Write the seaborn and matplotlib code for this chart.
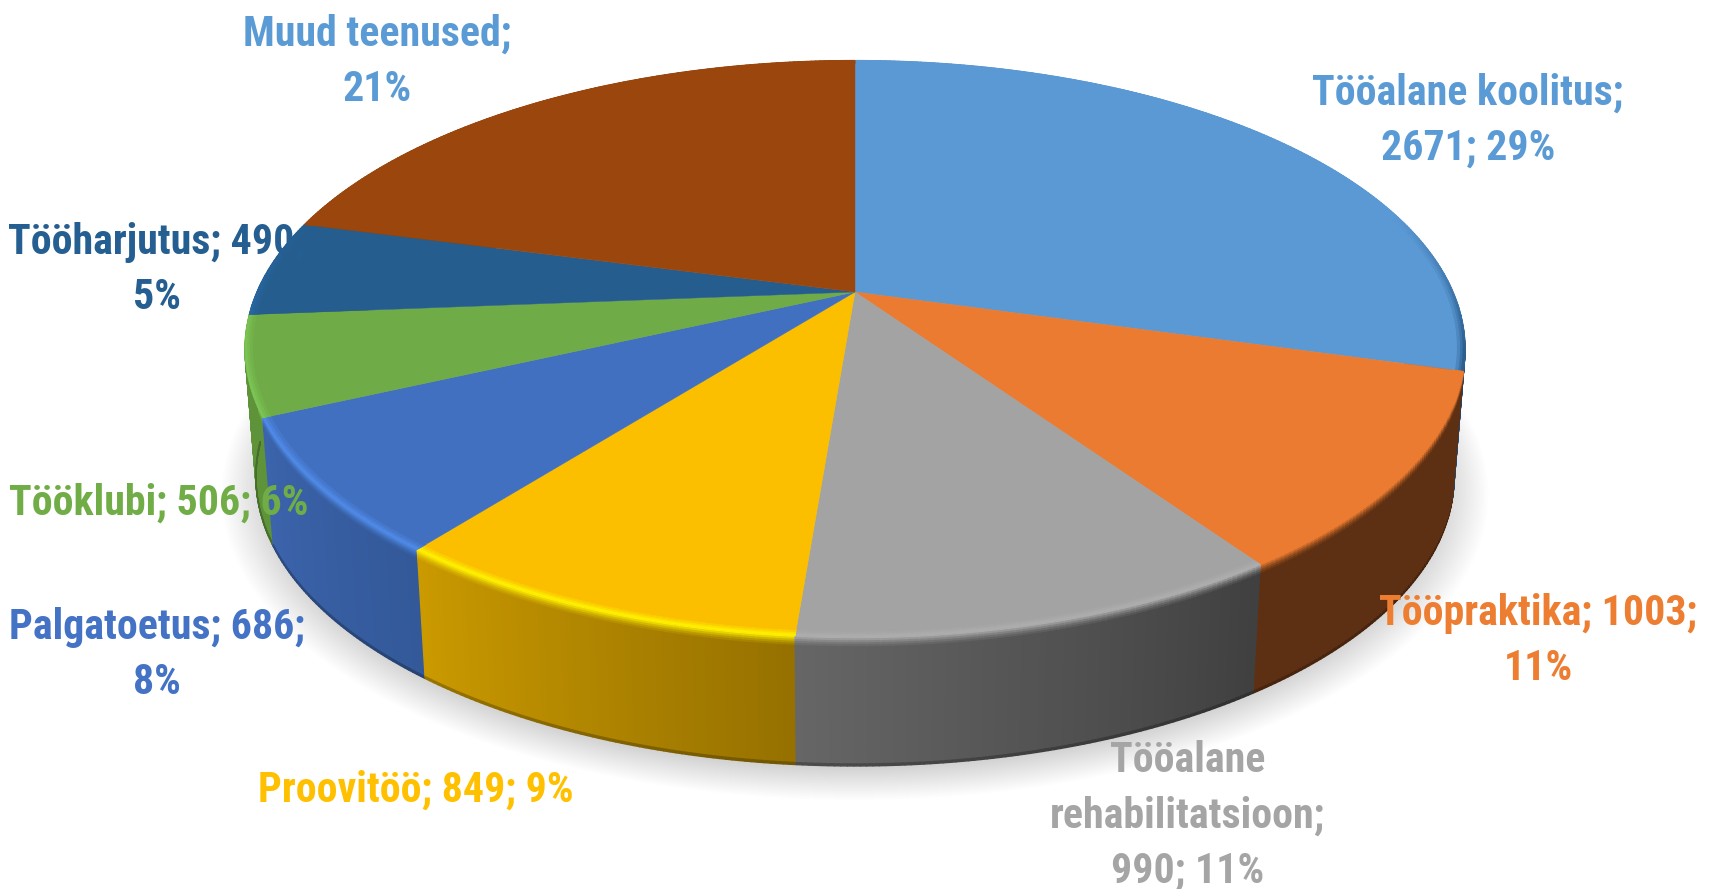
import numpy as np
import matplotlib
matplotlib.use("Agg")
import matplotlib.pyplot as plt
from matplotlib.collections import PolyCollection
from matplotlib.colors import to_rgb
import seaborn as sns

names = ["Tööalane koolitus", "Tööpraktika", "Tööalane rehabilitatsioon", "Proovitöö",
         "Palgatoetus", "Tööklubi", "Tööharjutus", "Muud teenused"]
values = [2671, 1003, 990, 849, 686, 506, 490, 1900]
top_colors = ["#5b99d5", "#eb7b30", "#a3a3a3", "#fbbf00", "#4270c0", "#6fab46", "#255d8f", "#9a460c"]
label_colors = ["#5b9bd5", "#ed7d31", "#a5a5a5", "#ffc000", "#4472c4", "#70ad47", "#255e91", "#5b9bd5"]
hi_colors = ["#2b5f8f", "#eb7b30", "#adadad", "#fff000", "#4f8ae6", "#7cc455", "#2a6aa5", "#9a460c"]
side_start = ["#1c4a75", "#5e3013", "#404040", "#967100", "#335999", "#5e9339", "#1f4e79", "#5e3013"]
side_end = ["#1c4a75", "#5e3013", "#666666", "#cb9a00", "#3c64ac", "#5e9339", "#1f4e79", "#5e3013"]
label_xy = [(1468, 121), (1538, 641), (1188, 816), (416, 790), (157, 655), (159, 503), (157, 270), (377, 62)]

total = sum(values)
pct = [round(100 * v / total) for v in values]
labels = [
    f"{names[0]};\n{values[0]}; {pct[0]}%",
    f"{names[1]}; {values[1]};\n{pct[1]}%",
    f"Tööalane\nrehabilitatsioon;\n{values[2]}; {pct[2]}%",
    f"{names[3]}; {values[3]}; {pct[3]}%",
    f"{names[4]}; {values[4]};\n{pct[4]}%",
    f"{names[5]}; {values[5]}; {pct[5]}%",
    f"{names[6]}; {values[6]};\n{pct[6]}%",
    f"{names[7]};\n{pct[7]}%",
]

sns.set_theme(style="white")
plt.rcParams["font.family"] = ["Roboto Condensed", "Liberation Sans Narrow", "Roboto", "DejaVu Sans"]

W, H = 1713, 889
fig = plt.figure(figsize=(W / 100, H / 100), dpi=100, facecolor="white")
ax = fig.add_axes([0, 0, 1, 1])
ax.set_xlim(0, W)
ax.set_ylim(H, 0)
ax.axis("off")

CX, CY, A, B, K, DEPTH = 855.0, 292.0, 598.0, 277.0, 0.197, 129.0


def project(theta, r=1.0, depth=0.0):
    t = np.radians(theta)
    x, y = r * np.sin(t), r * np.cos(t)
    den = 1 + K * y
    s = 1 - 0.018 * depth / DEPTH
    return np.column_stack([CX + s * A * x / den, CY - B * y / den + depth])


def band(th0, th1, r0, d0, r1, d1):
    a = project(np.array([th0, th1]), r0, d0)
    b = project(np.array([th1, th0]), r1, d1)
    return np.vstack([a, b])


def strength(theta):
    return float(np.clip((0.3 - np.cos(np.radians(theta))) / 0.5, 0, 1))


# soft shadow beneath the disc
ring = np.linspace(0, 360, 361)
for r in np.linspace(1.055, 0.97, 26):
    pts = project(ring, r, DEPTH) + np.array([0, 10])
    ax.fill(pts[:, 0], pts[:, 1], color="black", alpha=0.006, lw=0, zorder=1)

edges = np.concatenate([[0], np.cumsum(values)]) / total * 360

# sides, back slices first
order = sorted(range(len(values)), key=lambda i: -abs(((edges[i] + edges[i + 1]) / 2) - 180))
polys, cols = [], []
for i in order:
    th = np.linspace(edges[i], edges[i + 1], max(int(edges[i + 1] - edges[i]) * 2, 4) + 1)
    grad = sns.blend_palette([side_start[i], side_end[i]], len(th))
    top, hi = np.array(to_rgb(top_colors[i])), np.array(to_rgb(hi_colors[i]))
    for j in range(len(th) - 1):
        a, b = th[j], th[j + 1]
        side = np.array(grad[j])
        polys.append(band(a, b, 1, 12, 1, DEPTH - 2))
        cols.append(side)
        polys.append(band(a, b, 1, DEPTH - 2, 1, DEPTH))
        cols.append(side * 0.75)
        steps = [0, 2, 4, 6, 8, 10, 12]
        mix = [0.0, 0.25, 0.5, 0.72, 0.88, 1.0]
        g = strength(a)
        rim = (1 - g) * top + g * hi
        for s in range(len(steps) - 1):
            polys.append(band(a, b, 1, steps[s], 1, steps[s + 1]))
            cols.append((1 - mix[s]) * rim + mix[s] * side)
ax.add_collection(PolyCollection(polys, facecolors=cols, edgecolors=cols, linewidths=1.0, zorder=2))

# top of the disc
for i in range(len(values)):
    th = np.linspace(edges[i], edges[i + 1], 200)
    pts = np.vstack([[[CX, CY]], project(th)])
    ax.fill(pts[:, 0], pts[:, 1], color=top_colors[i], lw=0.3, zorder=3)

# bevel along the rim of the top
polys, cols = [], []
radii = [0.982, 0.988, 0.993, 0.997, 1.0]
for i in range(len(values)):
    th = np.linspace(edges[i], edges[i + 1], max(int(edges[i + 1] - edges[i]) * 2, 4) + 1)
    top, hi = np.array(to_rgb(top_colors[i])), np.array(to_rgb(hi_colors[i]))
    for j in range(len(th) - 1):
        g = strength(th[j])
        rim = (1 - g) * top + g * hi
        ramp = sns.blend_palette([top, rim], len(radii) - 1)
        for s in range(len(radii) - 1):
            polys.append(band(th[j], th[j + 1], radii[s], 0, radii[s + 1], 0))
            cols.append(ramp[s])
ax.add_collection(PolyCollection(polys, facecolors=cols, edgecolors=cols, linewidths=0.6, zorder=4))

for txt, (x, y), c in zip(labels, label_xy, label_colors):
    ax.text(x, y, txt, color=c, fontsize=30.2, fontweight="bold", ha="center", va="center",
            linespacing=1.44, multialignment="center", zorder=6)

fig.savefig("out.png", dpi=100, facecolor="white")
